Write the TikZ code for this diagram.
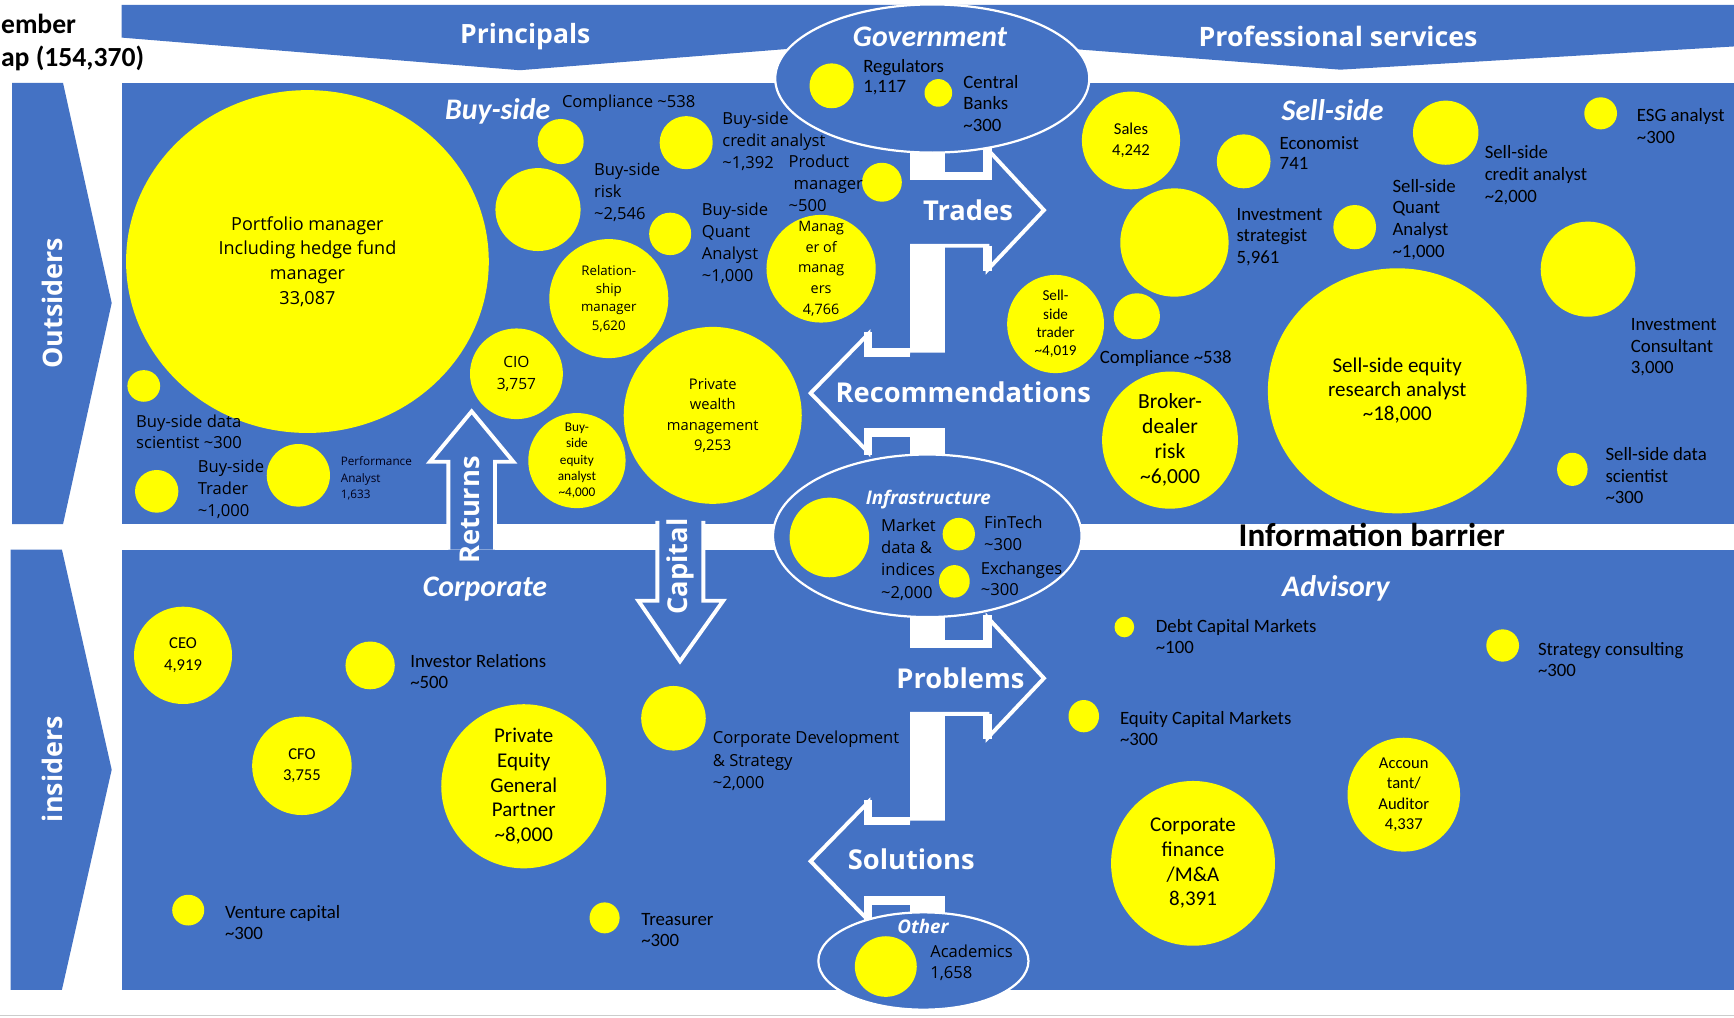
\documentclass[tikz,border=0pt]{standalone}
\usepackage{fontspec}
\setmainfont{Carlito}
\newfontfamily\osans{Open Sans}
\usetikzlibrary{shapes.geometric}
\definecolor{deskblue}{HTML}{4472C4}
\definecolor{bubyellow}{HTML}{FFFF00}
\newcommand\tld{\textasciitilde}
\newcommand\fsz[2]{\fontsize{#1}{#2}\selectfont}

\begin{document}
\begin{tikzpicture}[x=1pt,y=-1pt,
  bub/.style={ellipse, fill=bubyellow, draw=none, inner sep=0pt, outer sep=0pt},
  zone/.style={ellipse, fill=deskblue, draw=white, line width=2pt, inner sep=0pt},
  lab/.style={anchor=west, align=left, inner sep=0pt, text=black},
  lab17/.style={lab, font=\fsz{17}{19.6}},
  labos/.style={lab, font=\osans\fsz{15}{20}},
  intext/.style={align=center, inner sep=0pt, text=black},
  sect/.style={text=white, inner sep=0pt, font=\bfseries\itshape\fsz{27}{30}},
  sectos/.style={text=white, inner sep=0pt, font=\osans\bfseries\itshape\fsz{17}{20}},
  flowtxt/.style={text=white, inner sep=0pt, font=\osans\bfseries\fsz{24.7}{28}},
  flowline/.style={draw=white, line width=3.5pt, line join=miter},
  flowedge/.style={draw=white, line width=7.5pt},
  blk/.style={fill=deskblue, draw=none}]

% canvas
\useasboundingbox (0,0) rectangle (1568,919.7);
\fill[white] (0,0) rectangle (1568,919.7);
\draw[black!20, line width=1.2pt] (0,918) -- (1568,918);

% top banners
\fill[deskblue] (110,4.5) -- (835,4.5) -- (835,34.5) -- (470,63.5) -- (110,34) -- cycle;
\fill[deskblue] (850,4.5) -- (1568,4.5) -- (1568,42) -- (1212,63) -- (850,35) -- cycle;

% side chevrons
\fill[deskblue] (11,75) -- (57,75) -- (101,274) -- (57,474) -- (11,474) -- cycle;
\fill[deskblue] (9.5,497) -- (56,497) -- (101,696) -- (56,895) -- (9.5,895) -- cycle;

% main panels
\fill[deskblue] (110,75) rectangle (1568,474);
\fill[deskblue] (110,497) rectangle (1568,895);

% flow pairs: right arrow over left arrow joined by a white bar
\newcommand\flowpair{%
  \fill[white] (823,120) rectangle (854.5,440);
  \fill[deskblue] (823,159) -- (893,159) -- (893,135) -- (944,190) -- (893,244) -- (893,222.2) -- (823,222.2) -- cycle;
  \draw[flowline] (823,159) -- (893,159) -- (893,135) -- (944,190) -- (893,244) -- (893,222.2) -- (823,222.2);
  \draw[flowedge] (823,159) -- (893,159) -- (893,133);
  \draw[flowedge] (893,222.2) -- (893,245);
  \fill[deskblue] (854.5,318.8) -- (785.2,318.8) -- (785.2,302) -- (733,355.5) -- (785.2,409) -- (785.2,391.1) -- (854.5,391.1) -- cycle;
  \draw[flowline] (823,318.8) -- (785.2,318.8) -- (785.2,302) -- (733,355.5) -- (785.2,409) -- (785.2,391.1) -- (854.5,391.1);
  \draw[flowedge] (823,318.8) -- (785.2,318.8) -- (785.2,300);
  \draw[flowedge] (854.5,391.1) -- (785.2,391.1) -- (785.2,411);
}
\flowpair
\begin{scope}[shift={(0,423.3)}]
  \flowpair
\end{scope}

% Returns (up) and Capital (down) arrows across the information barrier
\fill[deskblue] (405.4,497) -- (405.4,417.5) -- (388.8,417.5) -- (426.5,372) -- (464.2,417.5) -- (447.6,417.5) -- (447.6,497) -- cycle;
\draw[flowline] (405.4,497) -- (405.4,417.5) -- (388.8,417.5) -- (426.5,372) -- (464.2,417.5) -- (447.6,417.5) -- (447.6,497);
\fill[deskblue] (594.4,471) -- (594.4,543.2) -- (577.2,543.2) -- (614.9,598) -- (654,543.2) -- (636,543.2) -- (636,471) -- cycle;
\draw[flowline] (594.4,471) -- (594.4,543.2) -- (577.2,543.2) -- (614.9,598) -- (654,543.2) -- (636,543.2) -- (636,471);

% outlined zones
\node[zone, minimum width=284pt, minimum height=134pt] (gov) at (843,71) {};
\node[zone, minimum width=279pt, minimum height=147pt] (infra) at (838.5,484.5) {};
\node[zone, minimum width=190pt, minimum height=88pt] (other) at (835,869) {};

% bubbles: buy-side
\node[bub, minimum width=328pt, minimum height=310pt] (pm) at (278,236.5) {};
\node[bub, minimum width=41.6pt, minimum height=40.8pt] (bcomp) at (507,128) {};
\node[bub, minimum width=48pt, minimum height=48pt] (bcred) at (620.5,129) {};
\node[bub, minimum width=77pt, minimum height=75pt] (brisk) at (486.5,189.5) {};
\node[bub, minimum width=38pt, minimum height=38.4pt] (bquant) at (606,211.5) {};
\node[bub, minimum width=36pt, minimum height=35.2pt] (prod) at (797.5,164.8) {};
\node[bub, minimum width=107.6pt, minimum height=107.6pt] (rel) at (550.5,270) {};
\node[bub, minimum width=98.8pt, minimum height=97.4pt] (mom) at (742.5,243) {};
\node[bub, minimum width=84pt, minimum height=82pt] (cio) at (467,338) {};
\node[bub, minimum width=161pt, minimum height=160pt] (pwm) at (644.5,375.6) {};
\node[bub, minimum width=88pt, minimum height=86pt] (bseq) at (521.7,416.5) {};
\node[bub, minimum width=29.6pt, minimum height=28.6pt] (bdata) at (130,349) {};
\node[bub, minimum width=39.2pt, minimum height=38.6pt] (btrader) at (141.7,444.3) {};
\node[bub, minimum width=57.2pt, minimum height=56.6pt] (perf) at (269.8,429.8) {};

% bubbles: sell-side
\node[bub, minimum width=88.8pt, minimum height=88.4pt] (sales) at (1022.7,127) {};
\node[bub, minimum width=48.6pt, minimum height=48.8pt] (econ) at (1124.6,145.9) {};
\node[bub, minimum width=98pt, minimum height=98pt] (istrat) at (1062,219.3) {};
\node[bub, minimum width=38.6pt, minimum height=40pt] (squant) at (1225,205.4) {};
\node[bub, minimum width=59.2pt, minimum height=58pt] (scred) at (1307.3,120) {};
\node[bub, minimum width=29.6pt, minimum height=29pt] (esg) at (1447.4,102.5) {};
\node[bub, minimum width=85.6pt, minimum height=86pt] (icons) at (1436,243.4) {};
\node[bub, minimum width=234pt, minimum height=221.6pt] (ser) at (1263.5,353.4) {};
\node[bub, minimum width=122.8pt, minimum height=124pt] (bdr) at (1058,398) {};
\node[bub, minimum width=87.6pt, minimum height=88.8pt] (strader) at (954.5,293) {};
\node[bub, minimum width=41.8pt, minimum height=41.6pt] (scomp) at (1028,286) {};
\node[bub, minimum width=27.6pt, minimum height=30pt] (sdata) at (1421.8,424.4) {};

% bubbles: government, infrastructure, other
\node[bub, minimum width=40pt, minimum height=40.6pt] (reg) at (752,77.6) {};
\node[bub, minimum width=25pt, minimum height=25pt] (cb) at (848.5,84) {};
\node[bub, minimum width=72pt, minimum height=72pt] (mkt) at (750,486) {};
\node[bub, minimum width=29.2pt, minimum height=29.4pt] (fin) at (867,483) {};
\node[bub, minimum width=27.8pt, minimum height=29.4pt] (exch) at (863,525.7) {};
\node[bub, minimum width=56pt, minimum height=54.8pt] (acad) at (801,874) {};

% bubbles: corporate
\node[bub, minimum width=88.6pt, minimum height=88pt] (ceo) at (165.5,592.6) {};
\node[bub, minimum width=44.6pt, minimum height=43.2pt] (ir) at (334.7,601.7) {};
\node[bub, minimum width=90pt, minimum height=89pt] (cfo) at (273,692.5) {};
\node[bub, minimum width=149.2pt, minimum height=148.4pt] (pe) at (473.6,711) {};
\node[bub, minimum width=58.4pt, minimum height=58.4pt] (cds) at (609,649.5) {};
\node[bub, minimum width=29pt, minimum height=27.8pt] (vc) at (170.2,823) {};
\node[bub, minimum width=27.2pt, minimum height=28pt] (treas) at (546.7,830) {};

% bubbles: advisory
\node[bub, minimum width=17.8pt, minimum height=18.6pt] (dcm) at (1016.7,567) {};
\node[bub, minimum width=27.6pt, minimum height=29.2pt] (ecm) at (980,647.6) {};
\node[bub, minimum width=29.6pt, minimum height=29.2pt] (strat) at (1358.8,583.7) {};
\node[bub, minimum width=101.8pt, minimum height=103pt] (acct) at (1269.4,718.6) {};
\node[bub, minimum width=148.2pt, minimum height=149pt] (cf) at (1078.8,780.7) {};

% texts inside bubbles
\node[intext, font=\osans\fsz{16.3}{22.3}] (t-pm) at (pm) {Portfolio manager\\Including hedge fund\\manager\\33,087};
\node[intext, font=\osans\fsz{12}{16.6}] (t-rel) at (rel) {Relation-\\ship\\manager\\5,620};
\node[intext, font=\osans\fsz{13}{18.8}] (t-mom) at (mom) {Manag\\er of\\manag\\ers\\4,766};
\node[intext, font=\osans\fsz{14}{19.6}] (t-cio) at (cio) {CIO\\3,757};
\node[intext, font=\osans\fsz{13.3}{18.5}] (t-pwm) at (pwm) {Private\\wealth\\management\\9,253};
\node[intext, font=\fsz{12}{14.6}] (t-bseq) at (bseq) {Buy-\\side\\equity\\analyst\\\tld4,000};
\node[intext, font=\fsz{15}{18.7}] (t-sales) at (sales) {Sales\\4,242};
\node[intext, font=\fsz{19}{21.8}] (t-ser) at (ser) {Sell-side equity\\research analyst\\\tld18,000};
\node[intext, font=\fsz{19.5}{22.6}] (t-bdr) at (bdr) {Broker-\\dealer\\risk\\\tld6,000};
\node[intext, font=\fsz{13.7}{16.5}] (t-strader) at (strader) {Sell-\\side\\trader\\\tld4,019};
\node[intext, font=\fsz{15}{19.3}] (t-ceo) at (ceo) {CEO\\4,919};
\node[intext, font=\fsz{15}{19.6}] (t-cfo) at (cfo) {CFO\\3,755};
\node[intext, font=\fsz{19}{22.4}] (t-pe) at (pe) {Private\\Equity\\General\\Partner\\\tld8,000};
\node[intext, font=\fsz{15}{18.5}] (t-acct) at (acct) {Accoun\\tant/\\Auditor\\4,337};
\node[intext, font=\fsz{19}{22.4}] (t-cf) at (cf) {Corporate\\finance\\/M\&A\\8,391};

% labels beside bubbles: buy-side
\node[labos] (l-bcomp) at (508,93) {Compliance \tld538};
\node[labos] (l-bcred) at (653,127.6) {Buy-side\\credit analyst\\\tld1,392};
\node[labos] (l-brisk) at (537,173.6) {Buy-side\\risk\\\tld2,546};
\node[labos] (l-bquant) at (634.5,220) {Buy-side\\Quant\\Analyst\\\tld1,000};
\node[labos] (l-prod) at (713,165.5) {Product\\\hspace*{4.5pt}manager\\\tld500};
\node[labos, font=\osans\fsz{15}{19}] (l-bdata) at (123,390.8) {Buy-side data\\scientist \tld300};
\node[labos, font=\osans\fsz{15}{19.7}] (l-btrader) at (178.7,442.3) {Buy-side\\Trader\\\tld1,000};
\node[labos, font=\osans\fsz{10.6}{14.5}, text=black!90!blue] (l-perf) at (308,432.5) {Performance\\Analyst\\1,633};

% labels: sell-side
\node[lab17, font=\fsz{17}{18.7}] (l-econ) at (1157,138.4) {Economist\\741};
\node[lab17] (l-istrat) at (1118,214.3) {Investment\\strategist\\5,961};
\node[lab17] (l-squant) at (1259,198.4) {Sell-side\\Quant\\Analyst\\\tld1,000};
\node[lab17] (l-scred) at (1342.4,158.5) {Sell-side\\credit analyst\\\tld2,000};
\node[lab17] (l-esg) at (1480,113.8) {ESG analyst\\\tld300};
\node[lab17] (l-icons) at (1474.5,314.1) {Investment\\Consultant\\3,000};
\node[lab17] (l-scomp) at (994.4,324) {Compliance \tld538};
\node[lab17] (l-sdata) at (1451.6,430.1) {Sell-side data\\scientist\\\tld300};

% labels: government, infrastructure, other
\node[lab17, font=\fsz{17}{18.5}] (l-reg) at (780.4,70) {Regulators\\1,117};
\node[lab17] (l-cb) at (871,93.5) {Central\\Banks\\\tld300};
\node[labos, font=\osans\fsz{15}{20.2}] (l-mkt) at (796.6,505.9) {Market\\data \&\\indices\\\tld2,000};
\node[labos, font=\osans\fsz{15}{19.7}] (l-fin) at (889.8,482.2) {FinTech\\\tld300};
\node[labos, font=\osans\fsz{15}{18.9}] (l-exch) at (886.8,523.7) {Exchanges\\\tld300};
\node[labos, font=\osans\fsz{15}{19}] (l-acad) at (841,870.3) {Academics\\1,658};

% labels: corporate
\node[lab17, font=\fsz{17}{19.3}] (l-ir) at (370.8,607.4) {Investor Relations\\\tld500};
\node[labos] (l-cds) at (644.4,688) {Corporate Development\\\& Strategy\\\tld2,000};
\node[lab17, font=\fsz{17}{19}] (l-vc) at (203.3,834.5) {Venture capital\\\tld300};
\node[lab17, font=\fsz{17}{19.3}] (l-treas) at (579.7,841) {Treasurer\\\tld300};

% labels: advisory
\node[lab17, font=\fsz{17}{18.9}] (l-dcm) at (1045,575.3) {Debt Capital Markets\\\tld100};
\node[lab17, font=\fsz{17}{19.2}] (l-ecm) at (1012.6,658.6) {Equity Capital Markets\\\tld300};
\node[lab17, font=\fsz{17}{18.9}] (l-strat) at (1390.6,596.4) {Strategy consulting\\\tld300};

% section titles
\node[sect] (s-gov) at (841,33) {Government};
\node[sect] (s-buy) at (450,101) {Buy-side};
\node[sect] (s-sell) at (1205,100) {Sell-side};
\node[sect] (s-corp) at (438.5,533) {Corporate};
\node[sect] (s-adv) at (1208,532) {Advisory};
\node[sectos] (s-infra) at (839.5,452) {Infrastructure};
\node[sectos] (s-other) at (834.6,838) {Other};

% banner and flow words
\node[flowtxt, font=\osans\bfseries\fsz{24}{26}] (h-prin) at (475,33.5) {Principals};
\node[flowtxt, font=\osans\bfseries\fsz{24.2}{26}] (h-prof) at (1210,33) {Professional services};
\node[flowtxt, font=\osans\bfseries\fsz{24.3}{28}, rotate=90] (h-out) at (47.5,274.3) {Outsiders};
\node[flowtxt, font=\osans\bfseries\fsz{24.3}{28}, rotate=90] (h-in) at (47.6,695.5) {insiders};
\node[flowtxt] (f-trades) at (875.3,189.9) {Trades};
\node[flowtxt] (f-rec) at (871,355) {Recommendations};
\node[flowtxt] (f-prob) at (868.5,612.9) {Problems};
\node[flowtxt] (f-sol) at (824,777.1) {Solutions};
\node[flowtxt, rotate=90] (f-ret) at (425,461.2) {Returns};
\node[flowtxt, rotate=90] (f-cap) at (614.9,512.4) {Capital};

% black captions
\node[inner sep=0pt, font=\bfseries\fsz{30}{32}] (barrier) at (1240.4,483.8) {Information barrier};
\node[anchor=east, inner sep=0pt, font=\bfseries\fsz{25}{28}] (cap-a) at (69,21.7) {ember};
\node[anchor=east, inner sep=0pt, font=\bfseries\fsz{25}{28}] (cap-b) at (130.6,52.7) {ap (154,370)};

\end{tikzpicture}
\end{document}
